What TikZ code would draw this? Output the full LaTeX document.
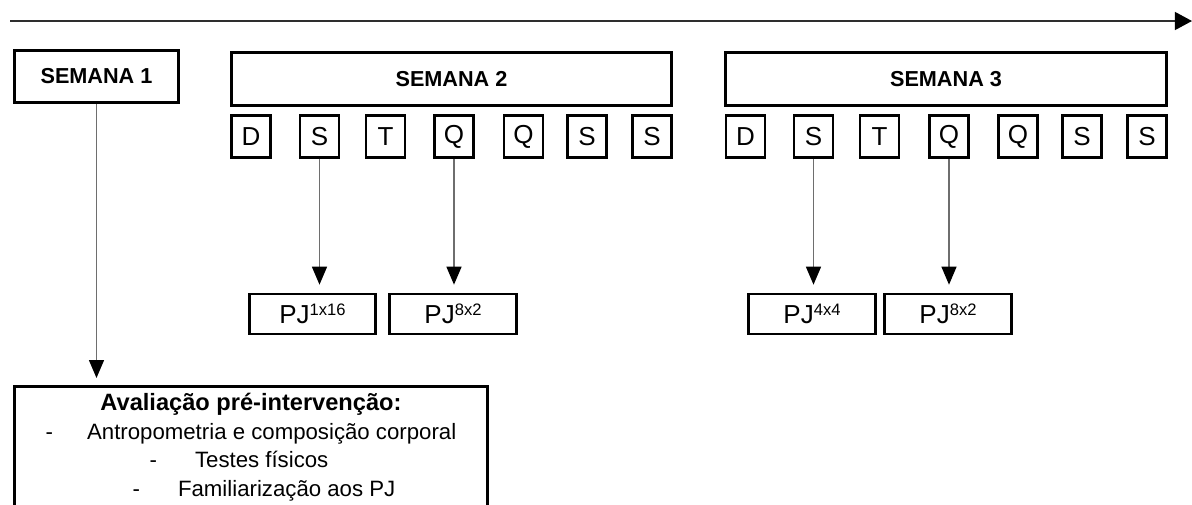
\documentclass[tikz,border=0pt]{standalone}
\usepackage{fontspec}
\setmainfont{Liberation Sans}
\setsansfont{Liberation Sans}
\usetikzlibrary{arrows.meta, positioning}
\definecolor{cline}{HTML}{6E6E6E}
\definecolor{caxis}{HTML}{2E2E2E}
\newcommand{\pjexp}[1]{\raisebox{6pt}{\fontsize{11.8}{12}\selectfont #1}}
\tikzset{
  every picture/.style={font=\sffamily, line width=1.9pt},
  box/.style={draw=black, line width=1.9pt, align=center, inner sep=0pt},
  semana/.style={box, font=\sffamily\bfseries\fontsize{15.4}{18}\selectfont, minimum height=1.31cm},
  dia/.style={box, minimum width=0.97cm, minimum height=1.05cm, font=\sffamily\fontsize{18.5}{20}\selectfont},
  pj/.style={box, minimum width=3.16cm, minimum height=1cm, font=\sffamily\fontsize{18.5}{20}\selectfont},
  arrow/.style={-{Triangle[length=0.45cm, width=0.375cm, color=black]}, draw=cline, line width=1pt},
  axis/.style={-{Triangle[length=0.43cm, width=0.45cm, color=black]}, draw=caxis, line width=1.3pt},
}

\begin{document}
\begin{tikzpicture}
  \useasboundingbox (0,0) rectangle (29.8,-12.6);
  % time axis
  \coordinate (t0) at (0.25,-0.525);
  \coordinate (t1) at (29.8,-0.525);
  \draw[axis] (t0) -- (t1);

  % weeks
  \node[semana, minimum width=4.11cm] (semana1) at (2.4125,-1.9125) {SEMANA 1};
  \node[semana, minimum width=11.01cm] (semana2) at (11.2875,-1.975) {SEMANA 2};
  \node[semana, minimum width=11.04cm] (semana3) at (23.65,-1.975) {SEMANA 3};

  % days, week 2
  \node[dia] (s2dom) at (6.275,-3.4125) {D};
  \node[dia] (s2seg) at (7.9875,-3.4125) {S};
  \node[dia] (s2ter) at (9.6375,-3.4125) {T};
  \node[dia] (s2qua) at (11.35,-3.4125) {Q};
  \node[dia] (s2qui) at (13.0875,-3.4125) {Q};
  \node[dia] (s2sex) at (14.675,-3.4125) {S};
  \node[dia] (s2sab) at (16.3,-3.4125) {S};
  % days, week 3
  \node[dia] (s3dom) at (18.6375,-3.4125) {D};
  \node[dia] (s3seg) at (20.3375,-3.4125) {S};
  \node[dia] (s3ter) at (21.9875,-3.4125) {T};
  \node[dia] (s3qua) at (23.725,-3.4125) {Q};
  \node[dia] (s3qui) at (25.45,-3.4125) {Q};
  \node[dia] (s3sex) at (27.05,-3.4125) {S};
  \node[dia] (s3sab) at (28.675,-3.4125) {S};

  % sessions
  \node[pj] (pj2a) at (7.8125,-7.85) {PJ\pjexp{1x16}};
  \node[pj] (pj2b) at (11.325,-7.85) {PJ\pjexp{8x2}};
  \node[pj] (pj3a) at (20.3,-7.85) {PJ\pjexp{4x4}};
  \node[pj] (pj3b) at (23.7,-7.85) {PJ\pjexp{8x2}};

  \draw[arrow, shorten >=0.2cm] (s2seg.south) -- (s2seg.south |- pj2a.north);
  \draw[arrow, shorten >=0.2cm] (s2qua.south) -- (s2qua.south |- pj2b.north);
  \draw[arrow, shorten >=0.2cm] (s3seg.south) -- (s3seg.south |- pj3a.north);
  \draw[arrow, shorten >=0.2cm] (s3qua.south) -- (s3qua.south |- pj3b.north);

  % pre-intervention assessment
  \node[box, anchor=north, minimum width=11.83cm, minimum height=3.6cm] (aval) at (6.275,-9.625) {};
  \node[below=0.17cm of aval.north, anchor=north, align=center, inner sep=0pt,
        font=\sffamily\fontsize{15.8}{20.4}\selectfont] (avaltxt)
    {{\bfseries\fontsize{16.8}{20.4}\selectfont Avaliação pré-intervenção:}\\
     -\hspace{0.85cm}Antropometria e composição corporal\\
     -\hspace{0.95cm}Testes físicos\hspace{0.6cm}\mbox{}\\
     \hspace*{0.65cm}-\hspace{0.95cm}Familiarização aos PJ};
  \draw[arrow, shorten >=0.175cm] (semana1.south) -- (semana1.south |- aval.north);
\end{tikzpicture}
\end{document}
